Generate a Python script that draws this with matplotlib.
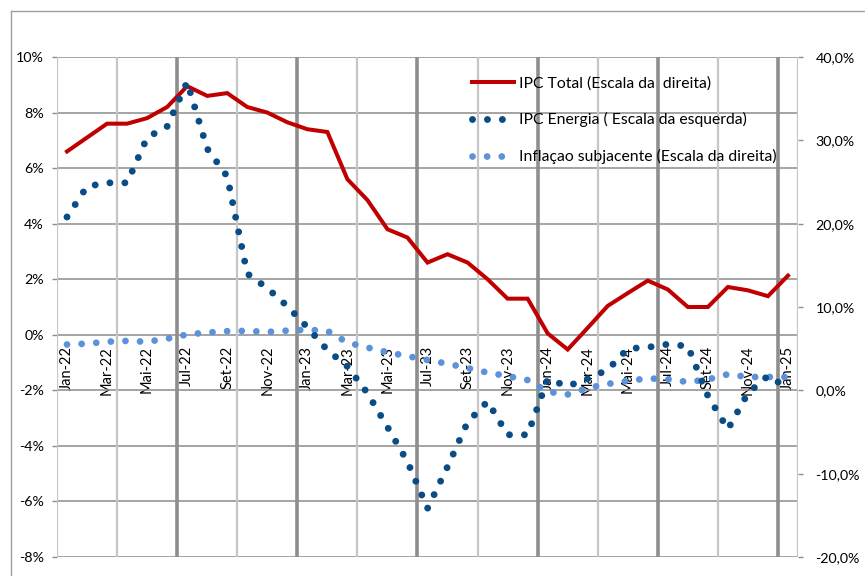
import matplotlib
matplotlib.use("Agg")
import matplotlib.pyplot as plt
from matplotlib.lines import Line2D
from matplotlib.ticker import FixedLocator, FuncFormatter

plt.rcParams['font.family'] = ['Lato', 'DejaVu Sans']

months = ["Jan-22", "Fev-22", "Mar-22", "Abr-22", "Mai-22", "Jun-22", "Jul-22", "Ago-22", "Set-22", "Out-22", "Nov-22", "Dez-22",
          "Jan-23", "Fev-23", "Mar-23", "Abr-23", "Mai-23", "Jun-23", "Jul-23", "Ago-23", "Set-23", "Out-23", "Nov-23", "Dez-23",
          "Jan-24", "Fev-24", "Mar-24", "Abr-24", "Mai-24", "Jun-24", "Jul-24", "Ago-24", "Set-24", "Out-24", "Nov-24", "Dez-24",
          "Jan-25"]

ipc_total = [6.6, 7.1, 7.6, 7.6, 7.8, 8.2, 8.95, 8.6, 8.7, 8.2, 8.0, 7.65,
             7.4, 7.3, 5.6, 4.85, 3.8, 3.5, 2.6, 2.9, 2.6, 2.0, 1.3, 1.3,
             0.05, -0.53, 0.25, 1.04, 1.5, 1.95, 1.63, 1.0, 1.0, 1.72, 1.6, 1.39,
             2.13]

ipc_energia = [4.24, 5.34, 5.47, 5.47, 7.1, 7.5, 9.1, 6.7, 5.7, 2.2, 1.68, 1.03,
               0.27, -0.55, -1.14, -2.1, -3.32, -4.57, -6.25, -4.75, -3.15, -2.4, -3.6, -3.6,
               -1.6, -1.85, -1.58, -1.26, -0.5, -0.45, -0.34, -0.41, -2.2, -3.4, -2.1, -1.48,
               -1.92]

inflacao_subjacente = [-0.35, -0.32, -0.25, -0.22, -0.25, -0.14, 0.01, 0.08, 0.13, 0.14, 0.10, 0.15,
                       0.18, 0.14, -0.28, -0.46, -0.63, -0.77, -0.91, -1.04, -1.2, -1.36, -1.49, -1.63,
                       -2.05, -2.15, -1.92, -1.77, -1.66, -1.57, -1.6, -1.7, -1.61, -1.42, -1.52, -1.52,
                       -1.52]

legend_labels = ["IPC Total (Escala da  direita)",
                 "IPC Energia ( Escala da esquerda)",
                 "Inflaçao subjacente (Escala da direita)"]

left_ticks = [-8, -6, -4, -2, 0, 2, 4, 6, 8, 10]
right_ticks = [-20, -10, 0, 10, 20, 30, 40]

W, H = 865, 576
fig = plt.figure(figsize=(W / 100, H / 100), dpi=100)
ax = fig.add_axes([57 / W, 1 - 557 / H, (798 - 57) / W, 500 / H])

x = list(range(len(months)))

RED = "#C00000"
DARK = "#0A4C86"
LIGHT = "#5B92DA"
GRID = "#8C8C8C"
LGRID = "#C6C6C6"

# vertical grid lines
for b in [-0.5, 2.5, 8.5, 14.5, 20.5, 26.5, 32.5, 36.5]:
    ax.axvline(b, color=LGRID, lw=1.6, zorder=1)
for b in [5.5, 11.5, 17.5, 23.5, 29.5, 35.5]:
    ax.axvline(b, color="#8E8E8E", lw=2.6, zorder=1)

dot_style = (0, (0.001, 2.15))
l1, = ax.plot(x, ipc_total, color=RED, lw=2.9, zorder=3, solid_joinstyle='miter')
l3, = ax.plot(x, inflacao_subjacente, color=LIGHT, lw=4.9, linestyle=dot_style,
              dash_capstyle='round', zorder=4)
l2, = ax.plot(x, ipc_energia, color=DARK, lw=5.0, linestyle=dot_style,
              dash_capstyle='round', zorder=5)

ax.set_xlim(-0.5, 36.5)
ax.set_ylim(-8, 10)
ax.yaxis.set_major_locator(FixedLocator(left_ticks))
ax.yaxis.set_major_formatter(FuncFormatter(lambda v, p: f"{int(round(v))}%".replace("−", "-")))
ax.yaxis.grid(True, color=GRID, lw=1.1, zorder=0)
ax.set_axisbelow(True)

for s in ["left", "right", "top"]:
    ax.spines[s].set_visible(False)
ax.spines["bottom"].set_position(("data", 0))
ax.spines["bottom"].set_visible(False)

xt = list(range(0, len(months), 2))
ax.set_xticks(xt)
ax.set_xticklabels([months[i] for i in xt], rotation=90, va="top", ha="center", fontsize=10.5)
ax.tick_params(axis="x", length=0, pad=8)
ax.tick_params(axis="y", length=3.6, color=GRID, width=1.0, labelsize=10.3, pad=6)

ax2 = ax.twinx()
ax2.set_ylim(-20, 40)
ax2.yaxis.set_major_locator(FixedLocator(right_ticks))
ax2.yaxis.set_major_formatter(FuncFormatter(lambda v, p: f"{v:.1f}%".replace(".", ",").replace("−", "-")))
for s in ["left", "right", "top", "bottom"]:
    ax2.spines[s].set_visible(False)
ax2.tick_params(axis="y", length=3.6, color=GRID, width=1.0, labelsize=10.3, pad=9)

leg = ax.legend([l1, l2, l3], legend_labels, loc="upper left",
                bbox_to_anchor=(472 / W, 1 - 76 / H), bbox_transform=fig.transFigure,
                frameon=False, fontsize=11.3, handlelength=2.7, handletextpad=0.3,
                labelspacing=1.4, borderpad=0, borderaxespad=0)

# outer chart-area border
fig.add_artist(Line2D([11 / W, 1], [1 - 11 / H, 1 - 11 / H], transform=fig.transFigure,
                      color="#A0A0A0", lw=1.0))
fig.add_artist(Line2D([11 / W, 11 / W], [0, 1 - 11 / H], transform=fig.transFigure,
                      color="#A0A0A0", lw=1.0))

fig.savefig("out.png", dpi=100)
